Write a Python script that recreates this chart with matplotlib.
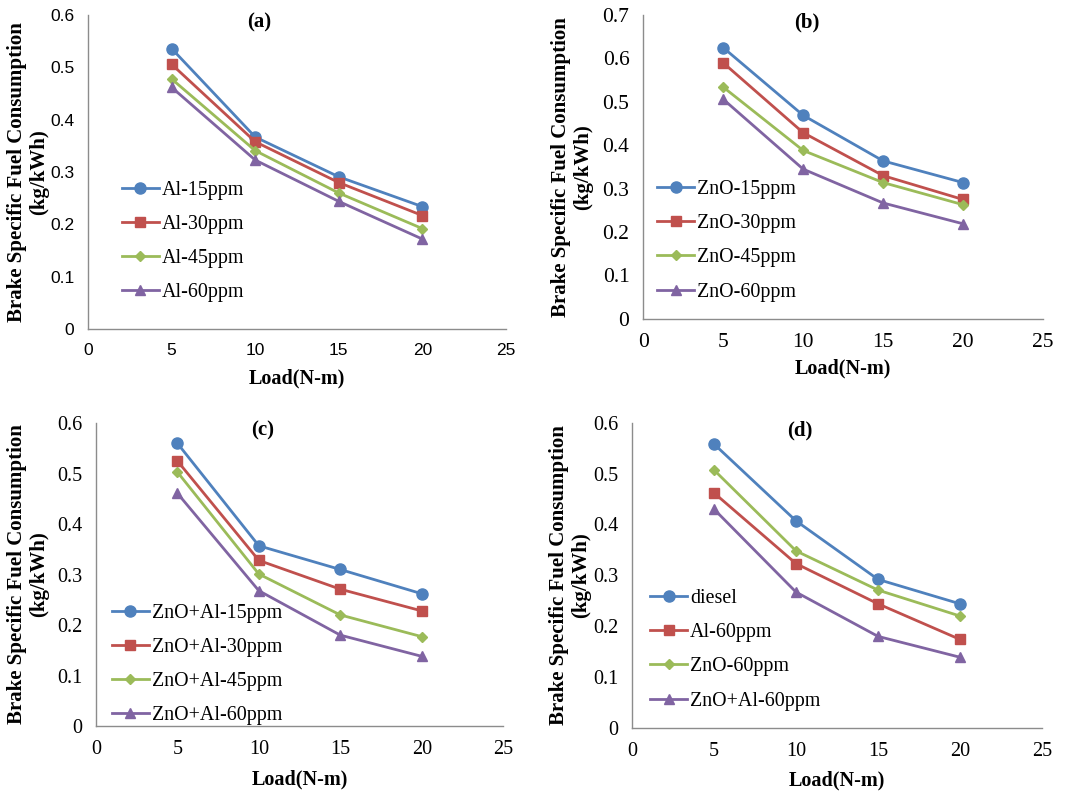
import matplotlib
matplotlib.use("Agg")
import matplotlib.pyplot as plt

# data
load = [5, 10, 15, 20]

al_names = ["Al-15ppm", "Al-30ppm", "Al-45ppm", "Al-60ppm"]
al_15 = [0.536, 0.367, 0.291, 0.234]
al_30 = [0.506, 0.358, 0.280, 0.217]
al_45 = [0.478, 0.341, 0.260, 0.192]
al_60 = [0.462, 0.323, 0.244, 0.172]

zno_names = ["ZnO-15ppm", "ZnO-30ppm", "ZnO-45ppm", "ZnO-60ppm"]
zno_15 = [0.625, 0.469, 0.364, 0.314]
zno_30 = [0.590, 0.429, 0.330, 0.275]
zno_45 = [0.534, 0.388, 0.314, 0.263]
zno_60 = [0.506, 0.345, 0.267, 0.219]

mix_names = ["ZnO+Al-15ppm", "ZnO+Al-30ppm", "ZnO+Al-45ppm", "ZnO+Al-60ppm"]
mix_15 = [0.560, 0.357, 0.310, 0.262]
mix_30 = [0.525, 0.328, 0.271, 0.228]
mix_45 = [0.503, 0.301, 0.220, 0.177]
mix_60 = [0.461, 0.268, 0.180, 0.138]

cmp_names = ["diesel", "Al-60ppm", "ZnO-60ppm", "ZnO+Al-60ppm"]
diesel = [0.558, 0.407, 0.292, 0.244]
cmp_al = [0.462, 0.323, 0.244, 0.174]
cmp_zno = [0.507, 0.348, 0.271, 0.220]
cmp_mix = [0.430, 0.267, 0.180, 0.139]

colors = ["#4F81BD", "#C0504D", "#9BBB59", "#8064A2"]
markers = ["o", "s", "D", "^"]
msizes = [8, 7, 5.5, 7.5]

serif = "Liberation Serif"
sans = "Liberation Sans"

fig = plt.figure(figsize=(10.83, 7.95), dpi=100)

# rect, series, names, ymax, tag, tick font/size, legend anchor, ylabel x and xlabel y in pixels
panels = [
    dict(rect=[0.0813, 0.586, 0.386, 0.395], ys=[al_15, al_30, al_45, al_60], names=al_names,
         ymax=0.6, tag="(a)", tfont=sans, tsize=12.5, leg=(0.081, 0.279), ylx=28, xly=378),
    dict(rect=[0.594, 0.599, 0.369, 0.382], ys=[zno_15, zno_30, zno_45, zno_60], names=zno_names,
         ymax=0.7, tag="(b)", tfont=serif, tsize=15.5, leg=(0.035, 0.257), ylx=572, xly=368),
    dict(rect=[0.0886, 0.0868, 0.376, 0.381], ys=[mix_15, mix_30, mix_45, mix_60], names=mix_names,
         ymax=0.6, tag="(c)", tfont=serif, tsize=14.5, leg=(0.039, 0.203), ylx=28, xly=779),
    dict(rect=[0.5836, 0.0843, 0.3786, 0.384], ys=[diesel, cmp_al, cmp_zno, cmp_mix], names=cmp_names,
         ymax=0.6, tag="(d)", tfont=serif, tsize=14.5, leg=(0.044, 0.256), ylx=570, xly=780),
]

W, H = 1083, 795

for p in panels:
    ax = fig.add_axes(p["rect"])
    for ys, name, c, m, ms in zip(p["ys"], p["names"], colors, markers, msizes):
        ax.plot(load, ys, color=c, marker=m, markersize=ms, linewidth=2.0, label=name)
    ax.set_xlim(0, 25)
    ax.set_ylim(0, p["ymax"])
    ax.set_xticks([0, 5, 10, 15, 20, 25])
    yt = [i / 10 for i in range(int(round(p["ymax"] * 10)) + 1)]
    ax.set_yticks(yt)
    ax.set_yticklabels(["0" if v == 0 else f"{v:.1f}" for v in yt])
    for s in ["top", "right"]:
        ax.spines[s].set_visible(False)
    for s in ["left", "bottom"]:
        ax.spines[s].set_color("#8c8c8c")
        ax.spines[s].set_linewidth(1.0)
    ax.tick_params(length=0, pad=10)
    for lab in ax.get_xticklabels() + ax.get_yticklabels():
        lab.set_fontfamily(p["tfont"])
        lab.set_fontsize(p["tsize"])
    ax.text(0.41, 0.975, p["tag"], transform=ax.transAxes, ha="center", va="center",
            fontfamily=serif, fontweight="bold", fontsize=15)
    ax.legend(loc="center left", bbox_to_anchor=p["leg"], frameon=False, borderpad=0,
              borderaxespad=0, handlelength=1.85, handletextpad=0.15, labelspacing=0.76,
              prop=dict(family=serif, size=14.4))

    r = p["rect"]
    cy = r[1] + r[3] / 2
    cx = r[0] + r[2] / 2
    fig.text(p["ylx"] / W, cy, "Brake Specific Fuel Consumption\n(kg/kWh)", rotation=90,
             ha="center", va="center", multialignment="center", fontfamily=serif,
             fontweight="bold", fontsize=15, linespacing=1.1)
    fig.text(cx, 1 - p["xly"] / H, "Load(N-m)", ha="center", va="center",
             fontfamily=serif, fontweight="bold", fontsize=14.5)

fig.savefig("out.png", dpi=100)
